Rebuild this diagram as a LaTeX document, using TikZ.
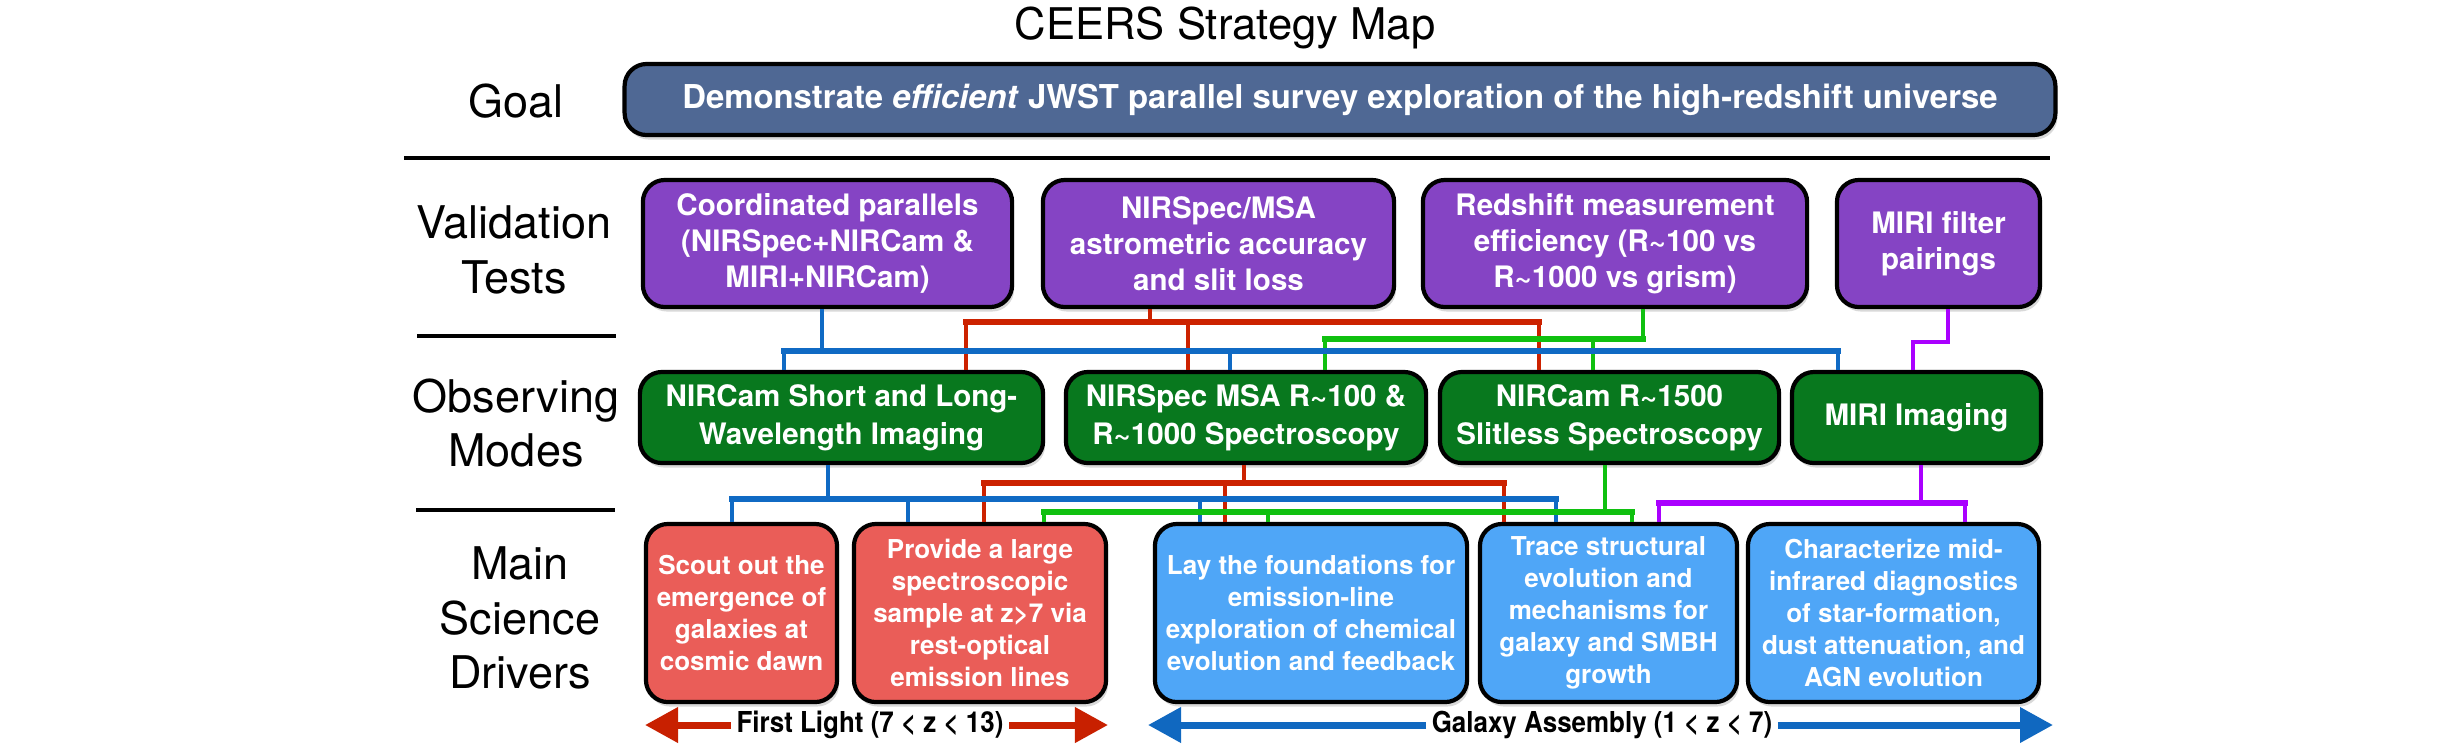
\documentclass[tikz,border=0pt]{standalone}
\usepackage{fontspec}
\setmainfont{TeX Gyre Heros}
\usepackage{tikz}
\usetikzlibrary{arrows.meta,shadows}
\definecolor{GoalBlue}{RGB}{79,104,148}
\definecolor{TestPurple}{RGB}{133,68,196}
\definecolor{ModeGreen}{RGB}{8,120,30}
\definecolor{DriverRed}{RGB}{234,93,88}
\definecolor{DriverBlue}{RGB}{79,166,247}
\definecolor{WireBlue}{RGB}{16,106,196}
\definecolor{WireRed}{RGB}{204,34,0}
\definecolor{WireGreen}{RGB}{16,192,16}
\definecolor{WirePurple}{RGB}{170,0,255}
\definecolor{ArrowRed}{RGB}{200,32,0}
\definecolor{ArrowBlue}{RGB}{16,104,192}

\tikzset{
  box/.style={draw=black,line width=0.042cm,rounded corners=0.22cm,text=white,align=center,inner sep=0pt,
    drop shadow={shadow xshift=0.02cm,shadow yshift=-0.045cm,opacity=0.3}},
  testbox/.style={box,fill=TestPurple,minimum height=1.27cm,font=\fontsize{8.4}{10.3}\selectfont\bfseries},
  modebox/.style={box,fill=ModeGreen,minimum height=0.91cm,font=\fontsize{8.4}{10.8}\selectfont\bfseries},
  drivebox/.style={box,minimum height=1.78cm,font=\fontsize{7.4}{9.1}\selectfont\bfseries},
  rowlabel/.style={font=\fontsize{12.8}{15.6}\selectfont,align=center},
  wire/.style={line width=0.046cm},
  bus/.style={line width=0.06cm,line cap=rect},
  bigarrow/.style={line width=0.07cm,-{Triangle[width=0.34cm,length=0.33cm]}},
  eralabel/.style={font=\fontsize{8.2}{10}\selectfont\bfseries\addfontfeatures{FakeStretch=0.9},inner xsep=0.05cm}
}

\begin{document}
\begin{tikzpicture}[x=0.01cm,y=-0.01cm]
  \useasboundingbox (0,0) rectangle (2463,744);

  \node[font=\fontsize{12.4}{15}\selectfont] (title) at (1225,28) {CEERS Strategy Map};

  % row labels and rules
  \node[rowlabel] (lgoal) at (516,101) {Goal};
  \node[rowlabel] (ltests) at (514,250) {Validation\\Tests};
  \node[rowlabel] (lmodes) at (516,423) {Observing\\Modes};
  \node[rowlabel] (ldrivers) at (520,618) {Main\\Science\\Drivers};
  \draw[line width=0.035cm] (404,158) -- (2050,158);
  \draw[line width=0.035cm] (417,336) -- (616,336);
  \draw[line width=0.035cm] (416,510) -- (615,510);

  % goal
  \node[box,fill=GoalBlue,minimum width=14.3cm,minimum height=0.71cm,font=\fontsize{9.35}{11}\selectfont\bfseries]
    (goal) at (1340,99.5) {Demonstrate \textit{efficient} JWST parallel survey exploration of the high-redshift universe};

  % validation tests
  \node[testbox,minimum width=3.69cm] (v1) at (827.5,243.5) {Coordinated parallels\\(NIRSpec+NIRCam \&\\MIRI+NIRCam)};
  \node[testbox,minimum width=3.51cm] (v2) at (1218.5,243.5) {NIRSpec/MSA\\astrometric accuracy\\and slit loss};
  \node[testbox,minimum width=3.84cm] (v3) at (1615,243.5) {Redshift measurement\\efficiency (R\textasciitilde100 vs\\R\textasciitilde1000 vs grism)};
  \node[testbox,minimum width=2.03cm] (v4) at (1938.5,243.5) {MIRI filter\\pairings};

  % observing modes
  \node[modebox,minimum width=4.03cm] (m1) at (841.5,417.5) {NIRCam Short and Long-\\Wavelength Imaging};
  \node[modebox,minimum width=3.60cm] (m2) at (1246,417.5) {NIRSpec MSA R\textasciitilde100 \&\\R\textasciitilde1000 Spectroscopy};
  \node[modebox,minimum width=3.39cm] (m3) at (1609.5,417.5) {NIRCam R\textasciitilde1500\\Slitless Spectroscopy};
  \node[modebox,minimum width=2.49cm] (m4) at (1916.5,417.5) {MIRI Imaging};

  % science drivers
  \node[drivebox,fill=DriverRed,minimum width=1.91cm] (d1) at (741.5,613) {Scout out the\\emergence of\\galaxies at\\cosmic dawn};
  \node[drivebox,fill=DriverRed,minimum width=2.52cm] (d2) at (980,613) {Provide a large\\spectroscopic\\sample at z>7 via\\rest-optical\\emission lines};
  \node[drivebox,fill=DriverBlue,minimum width=3.12cm] (d3) at (1311,613) {Lay the foundations for\\emission-line\\exploration of chemical\\evolution and feedback};
  \node[drivebox,fill=DriverBlue,minimum width=2.57cm] (d4) at (1608.5,613) {Trace structural\\evolution and\\mechanisms for\\galaxy and SMBH\\growth};
  \node[drivebox,fill=DriverBlue,minimum width=2.91cm] (d5) at (1893.5,613) {Characterize mid-\\infrared diagnostics\\of star-formation,\\dust attenuation, and\\AGN evolution};

  % tests -> modes
  \draw[wire,WireRed] (v2.south -| 1150,0) -- (1150,322);
  \draw[bus,WireRed] (966,322) -- (1539,322);
  \foreach \x/\t in {966/m1,1188/m2,1539/m3}
    \draw[wire,WireRed] (\x,322) -- (\x,0 |- \t.north);
  \draw[wire,WireGreen] (v3.south -| 1643,0) -- (1643,339);
  \draw[bus,WireGreen] (1325,339) -- (1643,339);
  \foreach \x/\t in {1325/m2,1593/m3}
    \draw[wire,WireGreen] (\x,339) -- (\x,0 |- \t.north);
  \draw[wire,WireBlue] (v1.south -| 822,0) -- (822,351);
  \draw[bus,WireBlue] (784,351) -- (1838,351);
  \foreach \x/\t in {784/m1,1230/m2,1838/m4}
    \draw[wire,WireBlue] (\x,351) -- (\x,0 |- \t.north);
  \draw[wire,WirePurple] (v4.south -| 1948,0) |- (1913,342) -- (1913,0 |- m4.north);

  % modes -> drivers
  \draw[wire,WireRed] (m2.south -| 1244,0) -- (1244,483);
  \draw[bus,WireRed] (984,483) -- (1504,483);
  \foreach \x/\t in {984/d2,1225/d3,1504/d4}
    \draw[wire,WireRed] (\x,483) -- (\x,0 |- \t.north);
  \draw[wire,WireBlue] (m1.south -| 828,0) -- (828,499);
  \draw[bus,WireBlue] (732,499) -- (1556,499);
  \foreach \x/\t in {732/d1,908/d2,1200/d3,1556/d4}
    \draw[wire,WireBlue] (\x,499) -- (\x,0 |- \t.north);
  \draw[wire,WireGreen] (m3.south -| 1605,0) -- (1605,512);
  \draw[bus,WireGreen] (1044,512) -- (1632,512);
  \foreach \x/\t in {1044/d2,1268/d3,1632/d4}
    \draw[wire,WireGreen] (\x,512) -- (\x,0 |- \t.north);
  \draw[wire,WirePurple] (m4.south -| 1921,0) -- (1921,503);
  \draw[bus,WirePurple] (1659,503) -- (1965,503);
  \foreach \x/\t in {1659/d4,1965/d5}
    \draw[wire,WirePurple] (\x,503) -- (\x,0 |- \t.north);

  % epochs
  \node[eralabel] (first) at (870,725) {First Light (7 < z < 13)};
  \coordinate (firstL) at (645,725);
  \coordinate (firstR) at (1108,725);
  \draw[bigarrow,ArrowRed] (first.west) -- (firstL);
  \draw[bigarrow,ArrowRed] (first.east) -- (firstR);
  \node[eralabel] (assembly) at (1602,725) {Galaxy Assembly (1 < z < 7)};
  \coordinate (assemblyL) at (1148,725);
  \coordinate (assemblyR) at (2053,725);
  \draw[bigarrow,ArrowBlue] (assembly.west) -- (assemblyL);
  \draw[bigarrow,ArrowBlue] (assembly.east) -- (assemblyR);
\end{tikzpicture}
\end{document}
